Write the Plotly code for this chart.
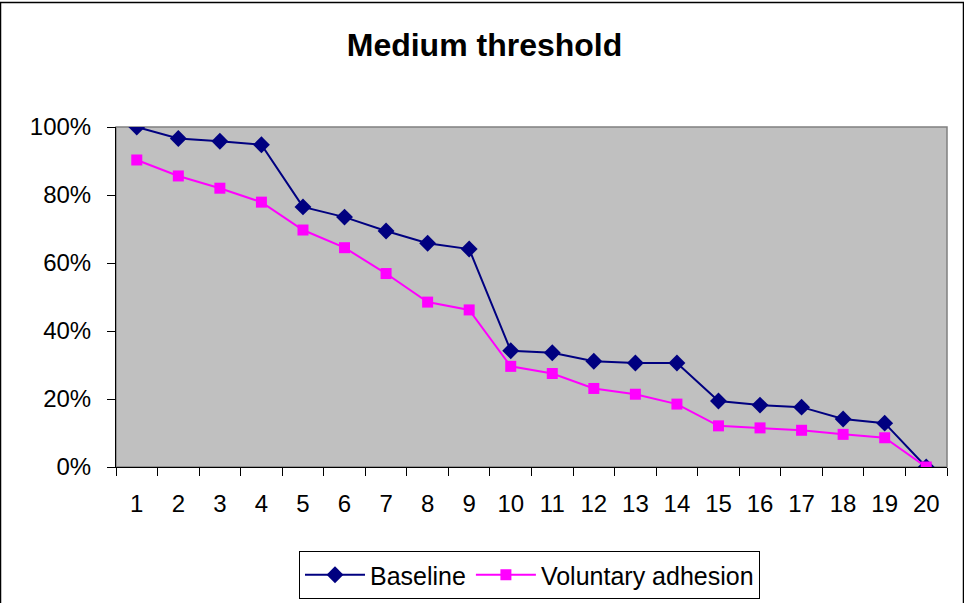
import plotly.graph_objects as go

categories = [str(i) for i in range(1, 21)]
baseline = [100, 96.6, 95.8, 94.8, 76.5, 73.5, 69.4, 65.8, 64.1, 34.2,
            33.6, 31.1, 30.6, 30.6, 19.4, 18.2, 17.6, 14.1, 12.9, 0]
voluntary = [90.3, 85.6, 82.0, 77.9, 69.7, 64.5, 56.9, 48.5, 46.2, 29.6,
             27.5, 23.1, 21.4, 18.5, 12.1, 11.5, 10.8, 9.6, 8.6, 0]
y_ticks = [0, 20, 40, 60, 80, 100]
y_labels = ["0%", "20%", "40%", "60%", "80%", "100%"]

W, H = 964, 603
L, R, T, B = 116, 17, 127, 136
pw, ph = W - L - R, H - T - B

fig = go.Figure()
fig.add_trace(go.Scatter(x=categories, y=baseline, name="Baseline", mode="lines+markers",
                         line=dict(color="#000080", width=2),
                         marker=dict(symbol="diamond", size=13, color="#000080")))
fig.add_trace(go.Scatter(x=categories, y=voluntary, name="Voluntary adhesion", mode="lines+markers",
                         line=dict(color="#FF00FF", width=2),
                         marker=dict(symbol="square", size=11, color="#FF00FF")))

def px2paper(x, y):
    return (x - L) / pw, (H - B - y) / ph

fx0, fy0 = px2paper(0.5, 2.5)
fx1, fy1 = px2paper(963.5, 605)

fig.update_layout(
    width=W, height=H,
    margin=dict(l=L, r=R, t=T, b=B, autoexpand=False),
    paper_bgcolor="white",
    plot_bgcolor="#C0C0C0",
    font=dict(family="Liberation Sans, Arial", size=24, color="black"),
    title=dict(text="<b>Medium threshold</b>", x=484.5 / W, xanchor="center",
               y=1 - 45 / H, yanchor="middle", font=dict(size=32)),
    showlegend=True,
    legend=dict(orientation="h", x=(529.5 - L) / pw, xanchor="center",
                y=(H - B - 551) / ph, yanchor="top",
                bordercolor="black", borderwidth=1, bgcolor="white",
                font=dict(size=25), itemwidth=60, tracegroupgap=0),
    xaxis=dict(type="category", tickson="boundaries", ticks="outside", ticklen=8,
               tickcolor="black", showline=True, linecolor="black", linewidth=1,
               showgrid=False, zeroline=False, ticklabelstandoff=15, automargin=False,
               range=[-0.5, 19.5]),
    yaxis=dict(range=[0, 100], tickvals=y_ticks, ticktext=y_labels, ticks="outside",
               ticklen=8, tickcolor="black", showline=True, linecolor="black", linewidth=1,
               showgrid=False, zeroline=False, ticklabelstandoff=11, automargin=False),
    shapes=[
        dict(type="rect", xref="paper", yref="paper", x0=0, y0=0, x1=1, y1=1,
             line=dict(color="#808080", width=1.5), layer="below"),
        dict(type="rect", xref="paper", yref="paper", x0=fx0, y0=fy1, x1=fx1, y1=fy0,
             line=dict(color="black", width=1.5), fillcolor="rgba(0,0,0,0)"),
    ],
)

fig.write_html("out.html")
